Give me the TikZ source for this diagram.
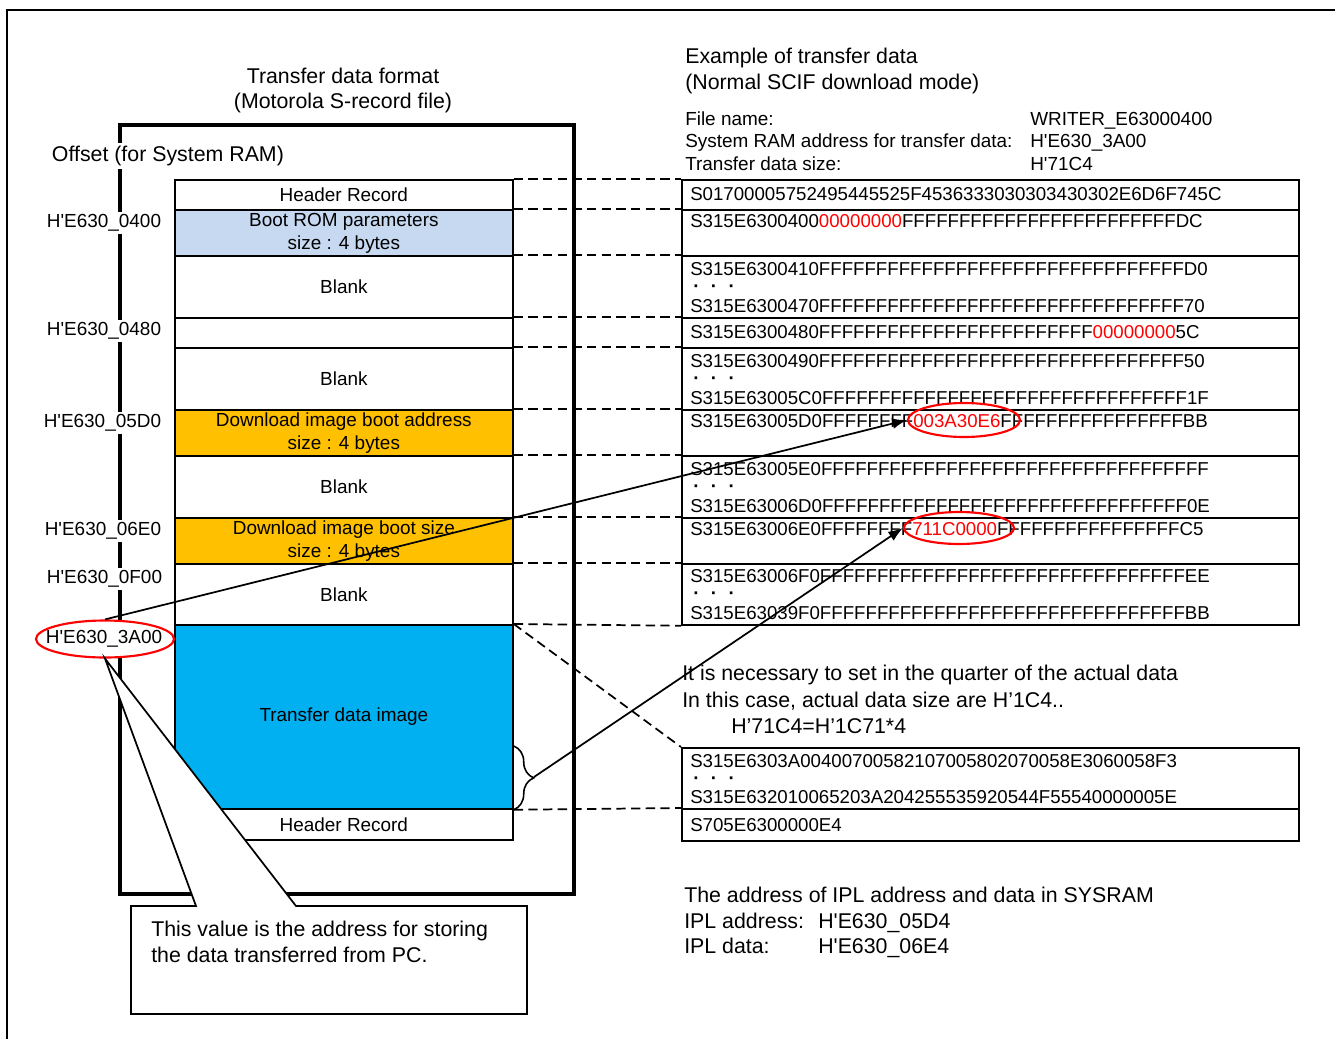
\documentclass[tikz,border=0pt]{standalone}
\usepackage{fontspec}
\setmainfont{Liberation Sans}
\usetikzlibrary{arrows.meta,decorations.pathreplacing,shapes.geometric}
\definecolor{bootblue}{HTML}{C6D9F1}
\definecolor{dlorange}{HTML}{FFC000}
\definecolor{tdblue}{HTML}{00B0F0}
\newcommand\feight{FFFFFFFF}
\newcommand\fsixteen{\feight\feight}
\newcommand\haddr[1]{H\textquotesingle #1}
\newcommand\rdots{{\bfseries ·\hspace{8.6pt}·\hspace{8.6pt}·}}
\begin{document}
\begin{tikzpicture}[x=0.75pt,y=-0.75pt,
  font=\fontsize{14.2}{17.25}\selectfont,
  big/.style={font=\fontsize{16}{19}\selectfont},
  rec/.style={font=\fontsize{14}{17}\selectfont},
  cell/.style 2 args={draw, line width=1.3pt, minimum width={#1*0.75pt}, minimum height={#2*0.75pt}, inner sep=0pt, align=center, anchor=north west},
  lbl/.style={fill=white, inner sep=2pt, anchor=east},
  txt/.style={anchor=west, inner sep=0pt, text height=10pt, text depth=0pt},
  ctxt/.style={anchor=center, inner sep=0pt, text height=11pt, text depth=0pt},
  conn/.style={line width=1.3pt, dash pattern=on 7pt off 4pt},
  redell/.style={draw=red, ellipse, line width=1.6pt, inner sep=0pt},
  arr/.style={line width=1.3pt, -{Latex[length=11pt,width=8pt]}},
  thick frame/.style={line width=3pt}]
\useasboundingbox (0,0) rectangle (1335,1039);
% outer frame (top and left)
\draw[line width=1.5pt] (1335,10) -- (7,10) -- (7,1039);

% titles
\node[ctxt, big] (t1) at (343,76) {Transfer data format};
\node[ctxt, big] (t2) at (343,101) {(Motorola S-record file)};

% memory frame
\draw[thick frame] (120,125) rectangle (574,894);

% left column
\node[cell={338}{30}] (hr1) at (174,179) {Header Record};
\node[cell={338}{46}, fill=bootblue] (boot) at (174,209) {Boot ROM parameters\\size : 4 bytes};
\node[cell={338}{62}] (bl1) at (174,255) {Blank};
\node[cell={338}{30}] (m480) at (174,317) {};
\node[cell={338}{62}] (bl2) at (174,347) {Blank};
\node[cell={338}{46}, fill=dlorange] (dia) at (174,409) {Download image boot address\\size : 4 bytes};
\node[cell={338}{62}] (bl3) at (174,455) {Blank};
\node[cell={338}{46}, fill=dlorange] (dis) at (174,517) {Download image boot size\\size : 4 bytes};
\node[cell={338}{61}] (bl4) at (174,563) {Blank};
\node[cell={338}{184}, fill=tdblue] (tdi) at (174,624) {Transfer data image};
\node[cell={338}{31}] (hr2) at (174,808) {Header Record};

% offset labels
\node[lbl, anchor=west, big] (off) at (49,156) {Offset (for System RAM)};
\node[lbl] (a0400) at (164,223) {\haddr{E630\_0400}};
\node[lbl] (a0480) at (164,331) {\haddr{E630\_0480}};
\node[lbl] (a05d0) at (164,423) {\haddr{E630\_05D0}};
\node[lbl] (a06e0) at (164,531) {\haddr{E630\_06E0}};
\node[lbl] (a0f00) at (165,579) {\haddr{E630\_0F00}};
\node[redell, fill=white, minimum width={138*0.75pt}, minimum height={37*0.75pt}] (e3a) at (105,639) {};
\node[inner sep=0pt] (a3a00) at (104,639) {\haddr{E630\_3A00}};

% right table
\node[cell={617}{30}] (r1) at (681,179) {};
\node[cell={617}{46}] (r2) at (681,209) {};
\node[cell={617}{62}] (r3) at (681,255) {};
\node[cell={617}{30}] (r4) at (681,317) {};
\node[cell={617}{62}] (r5) at (681,347) {};
\node[cell={617}{46}] (r6) at (681,409) {};
\node[cell={617}{62}] (r7) at (681,455) {};
\node[cell={617}{46}] (r8) at (681,517) {};
\node[cell={617}{61}] (r9) at (681,563) {};
\node[cell={617}{61}] (r10) at (681,747) {};
\node[cell={617}{32}] (r11) at (681,808) {};

% dashed connectors
\draw[conn] (hr1.north east) -- (r1.north west);
\draw[conn] (boot.north east) -- (r2.north west);
\draw[conn] (bl1.north east) -- (r3.north west);
\draw[conn] (m480.north east) -- (r4.north west);
\draw[conn] (bl2.north east) -- (r5.north west);
\draw[conn] (dia.north east) -- (r6.north west);
\draw[conn] (bl3.north east) -- (r7.north west);
\draw[conn] (dis.north east) -- (r8.north west);
\draw[conn] (bl4.north east) -- (r9.north west);
\draw[conn] (tdi.north east) -- (r9.south west);
\draw[conn] (tdi.north east) -- (r10.north west);
\draw[conn] (tdi.south east) -- (r11.north west);

% right texts
\node[txt, big] (h1) at (685,57) {Example of transfer data};
\node[txt, big] (h2) at (685,83) {(Normal SCIF download mode)};
\node[txt] (f1) at (685,119) {File name:};
\node[txt] (f2) at (685,141) {System RAM address for transfer data:};
\node[txt] (f3) at (685,164) {Transfer data size:};
\node[txt] (v1) at (1030,119) {WRITER\_E63000400};
\node[txt] (v2) at (1030,141) {\haddr{E630\_3A00}};
\node[txt] (v3) at (1030,164) {\haddr{71C4}};

\node[txt, rec] (s1) at (690,194) {S01700005752495445525F4536333030303430302E6D6F745C};
\node[txt, rec] (s2) at (690,221) {S315E6300400\textcolor{red}{00000000}\fsixteen\feight DC};
\node[txt, rec] (s3a) at (690,269) {S315E6300410\fsixteen\fsixteen D0};
\node[txt, rec] (s3b) at (693,286) {\rdots};
\node[txt, rec] (s3c) at (690,306) {S315E6300470\fsixteen\fsixteen 70};
\node[txt, rec] (s4) at (690,332) {S315E6300480\fsixteen\feight\textcolor{red}{00000000}5C};
\node[txt, rec] (s5a) at (690,361) {S315E6300490\fsixteen\fsixteen 50};
\node[txt, rec] (s5b) at (693,378) {\rdots};
\node[txt, rec] (s5c) at (690,398) {S315E63005C0\fsixteen\fsixteen 1F};
\node[txt, rec] (s6) at (690,421) {S315E63005D0\feight\textcolor{red}{003A30E6}\fsixteen BB};
\node[txt, rec] (s7a) at (690,469) {S315E63005E0\fsixteen\fsixteen FF};
\node[txt, rec] (s7b) at (693,486) {\rdots};
\node[txt, rec] (s7c) at (690,506) {S315E63006D0\fsixteen\fsixteen 0E};
\node[txt, rec] (s8) at (690,529) {S315E63006E0\feight\textcolor{red}{711C0000}\fsixteen C5};
\node[txt, rec] (s9a) at (690,576) {S315E63006F0\fsixteen\fsixteen EE};
\node[txt, rec] (s9b) at (693,593) {\rdots};
\node[txt, rec] (s9c) at (690,613) {S315E63039F0\fsixteen\fsixteen BB};
\node[txt, rec] (s10a) at (690,761) {S315E6303A00400700582107005802070058E3060058F3};
\node[txt, rec] (s10b) at (693,778) {\rdots};
\node[txt, rec] (s10c) at (690,797) {S315E632010065203A204255535920544F55540000005E};
\node[txt, rec] (s11) at (690,825) {S705E6300000E4};

\node[txt, big] (n1) at (682,674) {It is necessary to set in the quarter of the actual data};
\node[txt, big] (n2) at (682,701) {In this case, actual data size are H’1C4..};
\node[txt, big] (n3) at (731,727) {H’71C4=H’1C71*4};

\node[txt, big] (i1) at (684,896) {The address of IPL address and data in SYSRAM};
\node[txt, big] (i2) at (684,922) {IPL address:};
\node[txt, big] (i3) at (684,947) {IPL data:};
\node[txt, big] (i4) at (818,922) {\haddr{E630\_05D4}};
\node[txt, big] (i5) at (818,947) {\haddr{E630\_06E4}};

% red ellipses on data
\node[redell, minimum width={112*0.75pt}, minimum height={34*0.75pt}] (ea) at (964,420) {};
\node[redell, minimum width={110*0.75pt}, minimum height={32*0.75pt}] (eb) at (959,528) {};

% brace and arrows
\draw[line width=1.2pt, decorate, decoration={brace, amplitude=15pt}] (tdi.east |- 0,746) -- (tdi.south east);
\coordinate (btip) at (534,777);
\draw[arr] (e3a.north) -- (ea.west);
\draw[arr] (btip) -- (eb.west);

% callout
\draw[line width=1.3pt, fill=white] (131,906) -- (196,906) -- (e3a.south) -- (296,906) -- (527,906) -- (527,1014) -- (131,1014) -- cycle;
\node[txt, big] (c1) at (151,930) {This value is the address for storing};
\node[txt, big] (c2) at (151,956) {the data transferred from PC.};
\end{tikzpicture}
\end{document}
